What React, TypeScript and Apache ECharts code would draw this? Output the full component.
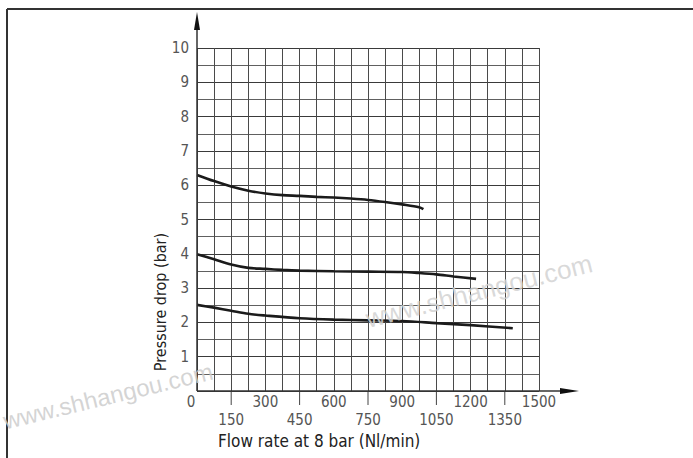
import React, { useEffect, useRef } from "react";
import * as echarts from "echarts";

// ---- data ----
const flowTop = [0, 75, 150, 225, 300, 375, 450, 525, 600, 675, 750, 825, 900, 974, 993];
const dropTop = [6.3, 6.12, 5.96, 5.84, 5.76, 5.71, 5.69, 5.66, 5.64, 5.61, 5.57, 5.51, 5.44, 5.36, 5.3];

const flowMid = [0, 75, 150, 225, 300, 375, 450, 600, 750, 900, 975, 1050, 1125, 1224];
const dropMid = [3.99, 3.84, 3.69, 3.59, 3.56, 3.53, 3.51, 3.49, 3.48, 3.47, 3.44, 3.4, 3.34, 3.27];

const flowLow = [0, 75, 150, 225, 300, 450, 600, 750, 900, 1050, 1200, 1385];
const dropLow = [2.51, 2.43, 2.34, 2.25, 2.2, 2.12, 2.08, 2.06, 2.04, 1.98, 1.92, 1.83];

const xUpperLabels = [0, 300, 600, 900, 1200, 1500];
const xLowerLabels = [150, 450, 750, 1050, 1350];
const yLabels = [1, 2, 3, 4, 5, 6, 7, 8, 9, 10];

const xTitle = "Flow rate at 8 bar (Nl/min)";
const yTitle = "Pressure drop (bar)";
const watermark = "www.shhangou.com";

const FONT = "'Liberation Sans Narrow', 'DejaVu Sans Condensed', 'Liberation Sans', sans-serif";
const GRID = { left: 197, top: 48, width: 342, height: 343 };

const pair = (xs: number[], ys: number[]) => xs.map((x, i) => [x, ys[i]]);

export default function App() {
  const ref = useRef<HTMLDivElement>(null);
  useEffect(() => {
    if (!ref.current) return;
    const chart = echarts.init(ref.current, null, { renderer: "svg" });
    const x0 = GRID.left;
    const y0 = GRID.top + GRID.height;
    const lineSeries = (data: number[][]) => ({
      type: "line",
      data,
      smooth: 0.3,
      showSymbol: false,
      symbol: "none",
      lineStyle: { color: "#1b1b1b", width: 2.6 },
      z: 5,
    });
    chart.setOption({
      animation: false,
      backgroundColor: "#ffffff",
      grid: { ...GRID },
      xAxis: {
        type: "value",
        min: 0,
        max: 1500,
        interval: 75,
        axisLine: { show: false },
        axisTick: { show: false },
        splitLine: { show: true, lineStyle: { color: "#4a4a4a", width: 1 } },
        axisLabel: {
          margin: 2,
          fontFamily: FONT,
          fontSize: 15,
          color: "#555",
          lineHeight: 18,
          verticalAlign: "top",
          showMaxLabel: true,
          formatter: (v: number) => {
            if (v === 0) return "{z|0}";
            if (xUpperLabels.includes(v)) return String(v);
            if (xLowerLabels.includes(v)) return "\n" + v;
            return "";
          },
          rich: { z: { padding: [0, 12, 0, 0], fontFamily: FONT, fontSize: 15, color: "#555" } },
        },
      },
      yAxis: {
        type: "value",
        min: 0,
        max: 10,
        interval: 1,
        axisLine: { show: false },
        axisTick: { show: false },
        minorTick: { show: false, splitNumber: 2 },
        splitLine: { show: true, lineStyle: { color: "#3a3a3a", width: 1 } },
        minorSplitLine: { show: true, lineStyle: { color: "#606060", width: 1 } },
        axisLabel: {
          margin: 8,
          fontFamily: FONT,
          fontSize: 15,
          color: "#555",
          showMinLabel: false,
          formatter: (v: number) => (yLabels.includes(v) ? String(v) : ""),
        },
      },
      series: [
        lineSeries(pair(flowTop, dropTop)),
        lineSeries(pair(flowMid, dropMid)),
        lineSeries(pair(flowLow, dropLow)),
        {
          type: "custom",
          clip: false,
          data: xLowerLabels.map((v) => [v, 0]),
          encode: { x: 0, y: 1 },
          renderItem: (_p: any, api: any) => {
            const p = api.coord([api.value(0), api.value(1)]);
            return {
              type: "line",
              shape: { x1: p[0], y1: p[1], x2: p[0], y2: p[1] + 14 },
              style: { stroke: "#444", lineWidth: 1 },
            };
          },
          z: 4,
        },
      ],
      graphic: [
        // frame
        { type: "line", shape: { x1: 7, y1: 9, x2: 693, y2: 9 }, style: { stroke: "#333", lineWidth: 2 } },
        { type: "line", shape: { x1: 7, y1: 9, x2: 7, y2: 458 }, style: { stroke: "#333", lineWidth: 2 } },
        // axes with arrows
        { type: "line", shape: { x1: x0, y1: y0, x2: x0, y2: 22 }, style: { stroke: "#333", lineWidth: 1.5 }, z: 10 },
        { type: "polygon", shape: { points: [[x0, 12], [x0 - 3, 30], [x0 + 3, 30]] }, style: { fill: "#111" }, z: 10 },
        { type: "line", shape: { x1: x0, y1: y0, x2: 568, y2: y0 }, style: { stroke: "#333", lineWidth: 1.5 }, z: 10 },
        { type: "polygon", shape: { points: [[579, y0], [560, y0 - 3], [560, y0 + 3]] }, style: { fill: "#111" }, z: 10 },
        // titles
        {
          type: "text",
          x: 218,
          y: 441,
          style: { text: xTitle, font: `17px ${FONT}`, fill: "#222", textAlign: "left", textVerticalAlign: "middle" },
        },
        {
          type: "text",
          x: 160,
          y: 302,
          rotation: Math.PI / 2,
          style: { text: yTitle, font: `16px ${FONT}`, fill: "#222", textAlign: "center", textVerticalAlign: "middle" },
        },
        // watermarks
        {
          type: "text",
          x: 108,
          y: 396,
          rotation: 0.237,
          z: 20,
          style: { text: watermark, font: `24px 'Liberation Sans', sans-serif`, fill: "rgba(205,205,205,0.85)", textAlign: "center", textVerticalAlign: "middle" },
        },
        {
          type: "text",
          x: 479,
          y: 291,
          rotation: 0.245,
          z: 20,
          style: { text: watermark, font: `26px 'Liberation Sans', sans-serif`, fill: "rgba(210,210,210,0.85)", textAlign: "center", textVerticalAlign: "middle" },
        },
      ],
    });
    return () => chart.dispose();
  }, []);
  return (
    <div
      ref={ref}
      style={{ position: "absolute", left: 0, top: 0, width: 693, height: 458, background: "#fff" }}
    />
  );
}
